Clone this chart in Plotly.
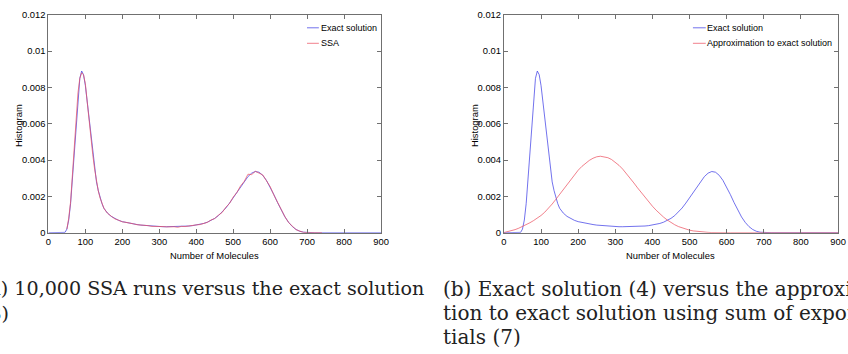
import plotly.graph_objects as go

# ---------------- data ----------------
exact_x = list(range(0, 50, 10)) + list(range(45, 165, 5)) + list(range(170, 910, 10))
exact_solution = [
    0, 0, 0, 0, 0,                                                    # 0-40
    0.00002, 0.0002, 0.0007, 0.0016, 0.003, 0.0046, 0.0062, 0.0076,   # 45-80
    0.0085, 0.0089, 0.0087, 0.0081, 0.0072, 0.0062, 0.0052, 0.0043,   # 85-120
    0.0035, 0.0028, 0.00232, 0.0019, 0.0016, 0.00135, 0.0012, 0.00108,  # 125-160
    0.0009, 0.00077, 0.00068,                        # 170-190
    0.00061, 0.00056, 0.00052, 0.00048, 0.00045,     # 200-240
    0.00042, 0.0004, 0.00038, 0.00036, 0.00035,      # 250-290
    0.00034, 0.00033, 0.00033, 0.00033, 0.00033,     # 300-340
    0.00033, 0.00034, 0.00035, 0.00037, 0.00039,     # 350-390
    0.00042, 0.00046, 0.00051, 0.00058, 0.00067,     # 400-440
    0.00079, 0.00094, 0.00113, 0.00136, 0.00163,     # 450-490
    0.00193, 0.00224, 0.00255, 0.00284, 0.00309,     # 500-540
    0.00328, 0.00337, 0.00333, 0.00316, 0.00288,     # 550-590
    0.00252, 0.0021, 0.00166, 0.00124, 0.00087,      # 600-640
    0.00057, 0.00034, 0.00018, 0.00008, 0.00003,     # 650-690
    0.00001, 0, 0, 0, 0,                             # 700-740
    0, 0, 0, 0, 0,                                   # 750-790
    0, 0, 0, 0, 0,                                   # 800-840
    0, 0, 0, 0, 0,                                   # 850-890
    0,                                               # 900
]

ssa_x = list(range(50, 165, 5)) + list(range(170, 750, 10))
ssa_histogram = [
    0.0002, 0.0008, 0.0017, 0.0031, 0.0047, 0.0063, 0.0077, 0.0085,   # 50-85
    0.0088, 0.0087, 0.0082, 0.0072, 0.0062, 0.0051, 0.0043, 0.0035,   # 90-125
    0.0028, 0.0023, 0.0019, 0.00158, 0.00136, 0.0012, 0.00107,        # 130-160
    0.00091, 0.00076, 0.00069,                       # 170-190
    0.0006, 0.00057, 0.00051, 0.00049, 0.00044,      # 200-240
    0.00043, 0.0004, 0.00039, 0.00035, 0.00036,      # 250-290
    0.00033, 0.00034, 0.00032, 0.00034, 0.00033,     # 300-340
    0.0003, 0.00035, 0.00034, 0.00038, 0.00038,      # 350-390
    0.00043, 0.00045, 0.00053, 0.00057, 0.0007,      # 400-440
    0.00078, 0.00097, 0.00111, 0.0014, 0.00161,      # 450-490
    0.00196, 0.00222, 0.00258, 0.00283, 0.00322,     # 500-540
    0.0032, 0.00338, 0.00328, 0.00318, 0.00286,      # 550-590
    0.00254, 0.00208, 0.00168, 0.00122, 0.00088,     # 600-640
    0.00056, 0.00035, 0.00017, 0.00009, 0.00002,     # 650-690
    0.00001, 0, 0, 0, 0,                             # 700-740
]

approx_x = list(range(0, 910, 10))
approximation = [
    0.00001, 0.00005, 0.0001, 0.00017, 0.00025,      # 0-40
    0.00034, 0.00044, 0.00055, 0.00067, 0.0008,      # 50-90
    0.00095, 0.00113, 0.00134, 0.00158, 0.00184,     # 100-140
    0.00211, 0.00239, 0.00267, 0.00294, 0.0032,      # 150-190
    0.00344, 0.00365, 0.00383, 0.00398, 0.0041,      # 200-240
    0.00418, 0.00421, 0.00419, 0.00413, 0.00403,     # 250-290
    0.00389, 0.00371, 0.0035, 0.00326, 0.003,        # 300-340
    0.00274, 0.00247, 0.0022, 0.00194, 0.00169,      # 350-390
    0.00146, 0.00124, 0.00104, 0.00086, 0.0007,      # 400-440
    0.00056, 0.00044, 0.00034, 0.00026, 0.00019,     # 450-490
    0.00014, 0.0001, 0.00007, 0.00005, 0.00003,      # 500-540
    0.00002, 0.00001, 0, 0, 0,                       # 550-590
    0, 0, 0, 0, 0,                                   # 600-640
    0, 0, 0, 0, 0,                                   # 650-690
    0, 0, 0, 0, 0,                                   # 700-740
    0, 0, 0, 0, 0,                                   # 750-790
    0, 0, 0, 0, 0,                                   # 800-840
    0, 0, 0, 0, 0,                                   # 850-890
    0,                                               # 900
]

assert len(exact_x) == len(exact_solution)
assert len(ssa_x) == len(ssa_histogram)
assert len(approx_x) == len(approximation)

x_tickvals = [0, 100, 200, 300, 400, 500, 600, 700, 800, 900]
x_ticktext = ["0", "100", "200", "300", "400", "500", "600", "700", "800", "900"]
y_tickvals = [0, 0.002, 0.004, 0.006, 0.008, 0.01, 0.012]
y_ticktext = ["0", "0.002", "0.004", "0.006", "0.008", "0.01", "0.012"]

legend_a = ["Exact solution", "SSA"]
legend_b = ["Exact solution", "Approximation to exact solution"]
caption_a = ["(a) 10,000 SSA runs versus the exact solution", "(3)"]
caption_b = ["(b) Exact solution (4) versus the approxima-",
             "tion to exact solution using sum of exponen-",
             "tials (7)"]

# ---------------- style ----------------
W, H = 848, 354
BLUE = "rgba(60,60,230,0.72)"
RED = "rgba(235,80,95,0.72)"
SANS = "Liberation Sans, Arial, sans-serif"
FS = 9.4
LFS = 9.0
SERIF = "DejaVu Serif, serif"
AXC = "#707070"


def px(v):          # window pixel x -> paper fraction
    return v / W


def py(v):          # window pixel y (from top) -> paper fraction
    return 1 - v / H


dom_x1 = [px(46), px(383)]
dom_x2 = [px(507.5), px(846)]
dom_y = [py(234), py(9)]

fig = go.Figure()
fig.add_trace(go.Scatter(x=exact_x, y=exact_solution, mode="lines",
                         line=dict(color=BLUE, width=1), xaxis="x", yaxis="y"))
fig.add_trace(go.Scatter(x=ssa_x, y=ssa_histogram, mode="lines",
                         line=dict(color=RED, width=1), xaxis="x", yaxis="y"))
fig.add_trace(go.Scatter(x=exact_x, y=exact_solution, mode="lines",
                         line=dict(color=BLUE, width=1), xaxis="x2", yaxis="y2"))
fig.add_trace(go.Scatter(x=approx_x, y=approximation, mode="lines",
                         line=dict(color=RED, width=1), xaxis="x2", yaxis="y2"))

axis_common = dict(showline=True, linecolor=AXC, linewidth=1, mirror="allticks",
                   ticks="inside", ticklen=4, tickcolor=AXC, showgrid=False,
                   zeroline=False, ticklabeloverflow="allow",
                   tickfont=dict(family=SANS, size=FS, color="black"))
xa = dict(range=[0, 900], tickvals=x_tickvals, ticktext=x_ticktext, **axis_common)
ya = dict(range=[0, 0.012], tickvals=y_tickvals, ticktext=y_ticktext, **axis_common)

fig.update_layout(
    width=W, height=H, margin=dict(l=0, r=0, t=0, b=0),
    paper_bgcolor="white", plot_bgcolor="white", showlegend=False,
    xaxis=dict(domain=dom_x1, anchor="y", **xa),
    yaxis=dict(domain=dom_y, anchor="x", **ya),
    xaxis2=dict(domain=dom_x2, anchor="y2", **xa),
    yaxis2=dict(domain=dom_y, anchor="x2", **ya),
)

ann = []
# axis titles
for dom, ytx in ((dom_x1, 15), (dom_x2, 477)):
    ann.append(dict(text="Number of Molecules", xref="paper", yref="paper",
                    x=(dom[0] + dom[1]) / 2, y=py(257), xanchor="center", yanchor="middle",
                    showarrow=False, font=dict(family=SANS, size=FS, color="black")))
    ann.append(dict(text="Histogram", xref="paper", yref="paper", textangle=-90,
                    x=px(ytx), y=py(123), xanchor="center", yanchor="middle",
                    showarrow=False, font=dict(family=SANS, size=FS, color="black")))

# legends (MATLAB-like short line samples)
shapes = []
for labels, x0, x1, xt in ((legend_a, 308, 320, 320), (legend_b, 699, 712, 711.5)):
    for lab, col, yy in zip(labels, (BLUE, RED), (22.5, 38.5)):
        shapes.append(dict(type="line", xref="paper", yref="paper",
                           x0=px(x0), x1=px(x1), y0=py(yy), y1=py(yy),
                           line=dict(color=col, width=1)))
        ann.append(dict(text=lab, xref="paper", yref="paper", x=px(xt), y=py(yy),
                        xanchor="left", yanchor="middle", showarrow=False,
                        font=dict(family=SANS, size=LFS, color="black")))

# captions, one annotation per line (baselines ~296, 321, 345.5)
baselines = [296, 321, 345.5]
ann.append(dict(text=caption_a[0], xref="paper", yref="paper", x=px(429), y=py(baselines[0] - 4),
                xanchor="right", yanchor="middle", showarrow=False,
                font=dict(family=SERIF, size=19.1, color="#222")))
ann.append(dict(text=caption_a[1], xref="paper", yref="paper", x=px(8), y=py(baselines[1] - 4),
                xanchor="right", yanchor="middle", showarrow=False,
                font=dict(family=SERIF, size=19.1, color="#222")))
for line, bl in zip(caption_b, baselines):
    ann.append(dict(text=line, xref="paper", yref="paper", x=px(444), y=py(bl - 4),
                    xanchor="left", yanchor="middle", align="left", showarrow=False,
                    font=dict(family=SERIF, size=20, color="#222")))

fig.update_layout(annotations=ann, shapes=shapes)
# remove the default 8px page margin so the figure fills the window exactly
fig.write_html("out.html",
               config={"displayModeBar": False},
               post_script="document.body.style.margin='0';document.body.style.overflow='hidden';")
